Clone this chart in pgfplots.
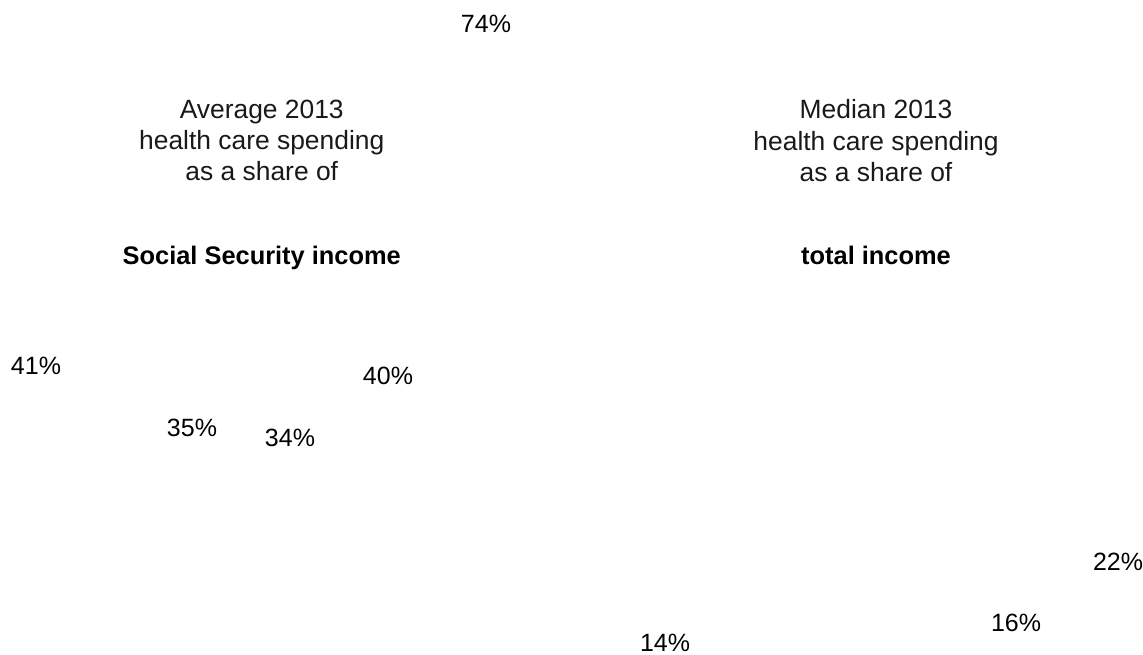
\documentclass[border=0pt]{standalone}
\usepackage{fontspec}
\setmainfont{Liberation Sans}
\usepackage{pgfplots}
\pgfplotsset{compat=1.18}
\begin{document}
\begin{tikzpicture}
\pgfplotsset{
  panel/.style={
    scale only axis, width=571.5pt, height=327pt,
    at={(0,0)}, anchor=south west,
    xmin=0, xmax=1143, hide axis, clip=false,
    ybar, bar width=40,
    /pgf/number format/assume math mode=true,
    nodes near coords={\pgfmathprintnumber{\pgfplotspointmeta}\%},
    nodes near coords style={anchor=center, font=\fontsize{12.5pt}{14pt}\selectfont, text=black,
      /pgf/number format/assume math mode=true},
  }
}
% Left panel: average spending as share of Social Security income
\begin{axis}[panel, ymin=13.14, ymax=76.33]
\addplot[draw=none, fill=none] coordinates {(36,41) (192,35) (290,34) (388,40) (486,74)};
\node[align=center, font=\fontsize{13.2pt}{15.6pt}\selectfont, text=black!90] at (rel axis cs:0.2290,0.7850) {Average 2013\\health care spending\\as a share of};
\node[anchor=base, font=\fontsize{12.7pt}{15pt}\selectfont\bfseries] at (rel axis cs:0.2290,0.5963) {Social Security income};
\end{axis}
% Right panel: median spending as share of total income
\begin{axis}[panel, ymin=12.91, ymax=77.51]
\addplot[draw=none, fill=none] coordinates {(665,14) (1016,16) (1118,22)};
\node[align=center, font=\fontsize{13.2pt}{15.6pt}\selectfont, text=black!90] at (rel axis cs:0.7664,0.7850) {Median 2013\\health care spending\\as a share of};
\node[anchor=base, font=\fontsize{12.7pt}{15pt}\selectfont\bfseries] at (rel axis cs:0.7664,0.5963) {total income};
\end{axis}
\pgfresetboundingbox
\useasboundingbox (0,0) rectangle (571.5pt,327pt);
\end{tikzpicture}
\end{document}
